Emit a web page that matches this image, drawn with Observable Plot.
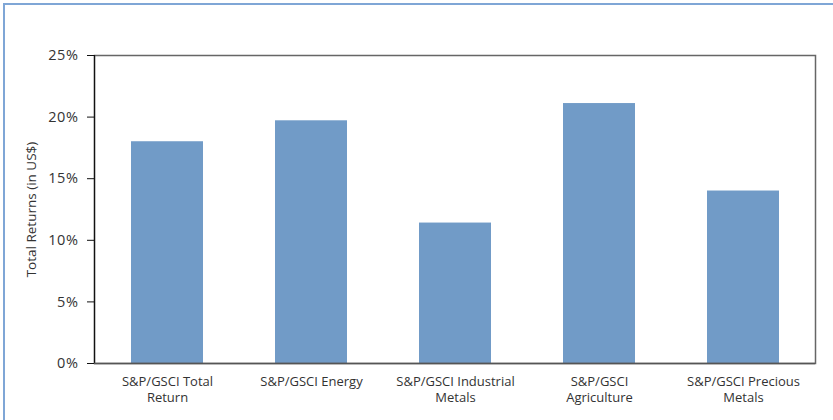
<!DOCTYPE html>
<html>
<head>
<meta charset="utf-8">
<script src="https://cdn.jsdelivr.net/npm/d3@7"></script>
<script src="https://cdn.jsdelivr.net/npm/@observablehq/plot@0.6"></script>
<style>
  html, body { margin: 0; padding: 0; background: #fff; overflow: hidden; }
  #wrap { position: relative; width: 833px; height: 420px; overflow: hidden; }
  #border { position: absolute; left: 3px; top: 3px; width: 840px; height: 430px; border: 2px solid #7FA6D6; box-sizing: border-box; }
  #chart { position: absolute; left: 0; top: 0; }
  .yt text { letter-spacing: 0.6px; }
</style>
</head>
<body>
<div id="wrap"><div id="border"></div><div id="chart"></div></div>
<script>
const categories = ["S&P/GSCI Total\nReturn", "S&P/GSCI Energy", "S&P/GSCI Industrial\nMetals", "S&P/GSCI\nAgriculture", "S&P/GSCI Precious\nMetals"];
const returnsPct = [18.0, 19.7, 11.4, 21.1, 14.0];
const yTicks = [0, 5, 10, 15, 20, 25];

const data = categories.map((c, i) => ({category: c, value: returnsPct[i]}));

const chart = Plot.plot({
  width: 833,
  height: 420,
  marginLeft: 94,
  marginRight: 18,
  marginTop: 55,
  marginBottom: 57,
  style: {fontFamily: "'Open Sans', sans-serif", fontSize: "12px", color: "#333", background: "transparent"},
  x: {domain: categories, paddingInner: 0.5, paddingOuter: 0.25, label: null},
  y: {domain: [0, 25], label: null},
  marks: [
    Plot.barY(data, {x: "category", y: "value", fill: "#719BC7"}),
    Plot.frame({stroke: "#666", strokeWidth: 1.5}),
    Plot.frame({anchor: "left", stroke: "#111", strokeWidth: 1.2}),
    Plot.axisX({tickSize: 0, tickPadding: 10, lineHeight: 1.3, fontSize: 13, fill: "#333"}),
    Plot.axisY({ticks: yTicks, tickSize: 7, tickPadding: 9, tickFormat: d => d + "%", fontSize: 14.5, fill: "#333", stroke: "#111", className: "yt",
      label: "Total Returns (in US$)", labelAnchor: "center", labelArrow: "none", labelOffset: 68}),
    Plot.ruleY(yTicks.slice(0, 1), {stroke: "#555", strokeWidth: 1.5})
  ]
});
document.getElementById("chart").appendChild(chart);
d3.select(chart).selectAll("g[aria-label='y-axis label'] text").style("font-size", "13.5px").style("letter-spacing", "0px");
</script>
</body>
</html>
